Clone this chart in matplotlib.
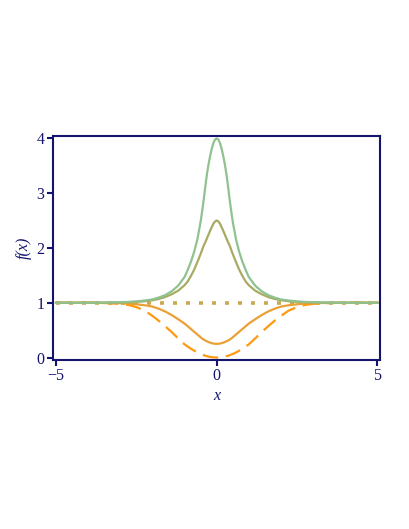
import matplotlib
matplotlib.use("Agg")
import matplotlib.pyplot as plt

# sample points (x >= 0 side, curves are symmetric)
x_half = [0.0, 0.05, 0.1, 0.15, 0.2, 0.25, 0.3, 0.35, 0.4, 0.45, 0.5, 0.6, 0.7, 0.8, 0.9, 1.0,
          1.2, 1.4, 1.6, 1.8, 2.0, 2.25, 2.5, 2.75, 3.0, 3.5, 4.0, 5.0]

green_half = [4.00, 3.98, 3.92, 3.82, 3.69, 3.54, 3.36, 3.14, 2.90, 2.68, 2.48, 2.16, 1.93,
              1.75, 1.60, 1.47, 1.31, 1.21, 1.14, 1.095, 1.06, 1.04, 1.025, 1.015, 1.01,
              1.003, 1.001, 1.0]
olive_half = [2.50, 2.485, 2.445, 2.385, 2.32, 2.25, 2.18, 2.11, 2.05, 1.97, 1.89, 1.745, 1.605,
              1.49, 1.39, 1.32, 1.22, 1.155, 1.105, 1.07, 1.045, 1.027, 1.015, 1.008, 1.004,
              1.001, 1.0, 1.0]
flat_half = [1.0] * len(x_half)
orange_half = [0.25, 0.251, 0.255, 0.261, 0.27, 0.282, 0.295, 0.31, 0.325, 0.346, 0.37, 0.42,
               0.47, 0.52, 0.57, 0.62, 0.70, 0.775, 0.84, 0.89, 0.93, 0.955, 0.972, 0.985,
               0.992, 0.998, 1.0, 1.0]
dashed_half = [0.0, 0.001, 0.003, 0.006, 0.01, 0.016, 0.024, 0.032, 0.042, 0.053, 0.065, 0.092,
               0.125, 0.16, 0.20, 0.24, 0.35, 0.465, 0.57, 0.67, 0.76, 0.86, 0.92, 0.96,
               0.98, 0.995, 1.0, 1.0]

x_ticks = [-5, 0, 5]
y_ticks = [0, 1, 2, 3, 4]


def mirror(xs, ys):
    # full curve from the right-hand half
    return [-v for v in xs[:0:-1]] + xs, ys[:0:-1] + ys


navy = "#14146e"
plt.rcParams["font.family"] = ["Liberation Serif", "DejaVu Serif"]

fig = plt.figure(figsize=(4.09, 5.29), dpi=100)
ax = fig.add_axes([0.129, 0.3195, 0.800, 0.424])

xs, ys = mirror(x_half, flat_half)
ax.plot(xs, ys, color="#c8a850", lw=2.6, linestyle=(0, (1.1, 2.5)), dash_capstyle="butt")
xs, ys = mirror(x_half, orange_half)
ax.plot(xs, ys, color="#eba035", lw=1.6)
xs, ys = mirror(x_half, dashed_half)
ax.plot(xs, ys, color="#ff9a10", lw=1.6, linestyle=(0, (7, 3.5)))
xs, ys = mirror(x_half, olive_half)
ax.plot(xs, ys, color="#a8ab62", lw=1.6)
xs, ys = mirror(x_half, green_half)
ax.plot(xs, ys, color="#8fc28f", lw=1.6)

ax.set_xlim(-5.1, 5.08)
ax.set_ylim(-0.045, 4.05)
ax.set_xticks(x_ticks)
ax.set_xticklabels(["\u22125", "0", "5"])
ax.set_yticks(y_ticks)

for s in ax.spines.values():
    s.set_color(navy)
    s.set_linewidth(1.5)
ax.tick_params(colors=navy, labelcolor=navy, direction="out", length=4, width=1.5,
               labelsize=11.5, pad=2)

ax.set_xlabel("x", style="italic", color=navy, fontsize=11.5, labelpad=3)
ax.set_ylabel("f(x)", style="italic", color=navy, fontsize=11.5, labelpad=3)

fig.savefig("out.png", dpi=100)
